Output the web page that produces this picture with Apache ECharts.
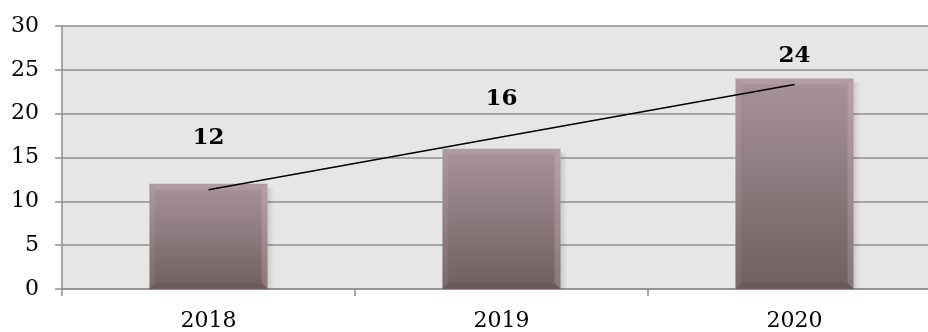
<!DOCTYPE html>
<html><head><meta charset="utf-8">
<script src="https://cdn.jsdelivr.net/npm/echarts@6/dist/echarts.min.js"></script>
<style>html,body{margin:0;padding:0;background:#fff;overflow:hidden;width:928px;height:332px}#c{width:941px;height:332px}</style>
</head><body><div id="c"></div>
<script>
const years = ['2018', '2019', '2020'];
const values = [12, 16, 24];
const trend = [11.33, 17.33, 23.33];
const yTicks = [0, 5, 10, 15, 20, 25, 30];
const labelLift = [46, 50, 23];

const FONT = 'DejaVu Serif';
const chart = echarts.init(document.getElementById('c'), null, {renderer: 'canvas'});
const barData = years.map((y, i) => [i, values[i]]);

chart.setOption({
  animation: false,
  grid: {left: 62, top: 26, right: 0, bottom: 43, show: true, backgroundColor: '#e6e6e6', borderWidth: 0},
  xAxis: {
    type: 'category', data: years, boundaryGap: true,
    axisLine: {lineStyle: {color: '#8f8f8f', width: 1.5}},
    axisTick: {show: true, length: 7, alignWithLabel: false, lineStyle: {color: '#8f8f8f', width: 1.5}},
    axisLabel: {margin: 21, color: '#000', fontFamily: FONT, fontSize: 22}
  },
  yAxis: {
    type: 'value', min: yTicks[0], max: yTicks[yTicks.length - 1], interval: 5,
    axisLine: {show: true, lineStyle: {color: '#8f8f8f', width: 1.5}},
    axisTick: {show: true, length: 7, lineStyle: {color: '#8f8f8f', width: 1.5}},
    splitLine: {lineStyle: {color: '#8f8f8f', width: 1.5}},
    axisLabel: {margin: 23, color: '#000', fontFamily: FONT, fontSize: 22}
  },
  series: [
    {
      type: 'custom',
      data: barData,
      renderItem(params, api) {
        const xi = api.value(0), v = api.value(1);
        const top = api.coord([xi, v]);
        const base = api.coord([xi, 0]);
        const bw = api.size([1, 0])[0] * 0.403;
        const x0 = top[0] - bw / 2, x1 = top[0] + bw / 2, y0 = top[1], y1 = base[1];
        const b = 6;
        const h = y1 - y0;
        return {
          type: 'group',
          children: [
            {type: 'rect', shape: {x: x1, y: y0 + 4, width: 7, height: h - 4},
              style: {fill: new echarts.graphic.LinearGradient(0, 0, 1, 0, [
                {offset: 0, color: 'rgba(0,0,0,0.12)'}, {offset: 1, color: 'rgba(0,0,0,0)'}])}},
            {type: 'rect', shape: {x: x0, y: y0, width: bw, height: h},
              style: {fill: new echarts.graphic.LinearGradient(0, 0, 0, 1, [
                {offset: 0, color: '#a8939a'}, {offset: 1, color: '#6f5f5f'}])}},
            {type: 'polygon', shape: {points: [[x0, y0], [x1, y0], [x1 - b, y0 + b], [x0 + b, y0 + b]]},
              style: {fill: 'rgba(255,235,240,0.10)'}},
            {type: 'polygon', shape: {points: [[x0, y0], [x0 + b, y0 + b], [x0 + b, y1 - b], [x0, y1]]},
              style: {fill: 'rgba(255,235,240,0.07)'}},
            {type: 'polygon', shape: {points: [[x1, y0], [x1, y1], [x1 - b, y1 - b], [x1 - b, y0 + b]]},
              style: {fill: 'rgba(255,225,232,0.18)'}},
            {type: 'polygon', shape: {points: [[x0, y1], [x0 + b, y1 - b], [x1 - b, y1 - b], [x1, y1]]},
              style: {fill: 'rgba(60,40,40,0.10)'}},
            {type: 'text', x: top[0], y: y0 - labelLift[params.dataIndex],
              style: {text: String(v), fill: '#000', font: 'bold 23px "' + FONT + '"', align: 'center', verticalAlign: 'middle'}}
          ]
        };
      },
      z: 2
    },
    {
      type: 'line', data: trend, symbol: 'none', silent: true,
      lineStyle: {color: '#000', width: 1.6}, z: 3
    }
  ]
});
</script></body></html>
